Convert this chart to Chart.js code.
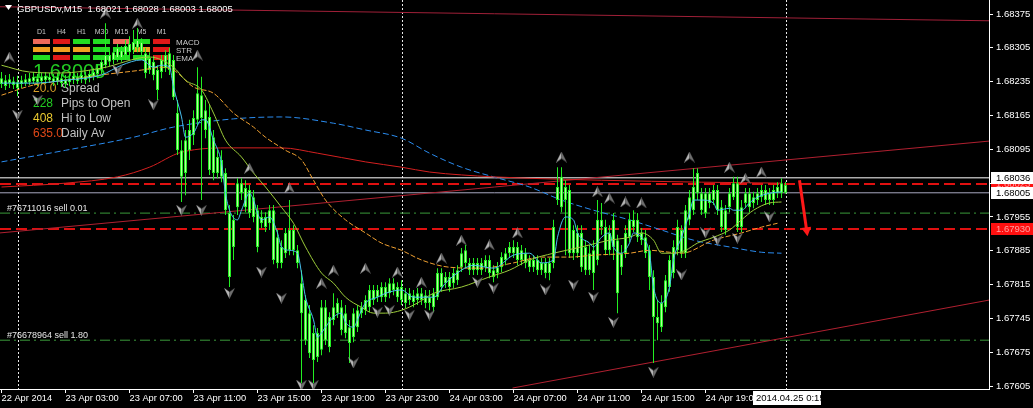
<!DOCTYPE html>
<html>
<head>
<meta charset="utf-8">
<script src="https://cdn.jsdelivr.net/npm/chart.js@4.4.0/dist/chart.umd.min.js"></script>
<style>
  html, body { margin: 0; padding: 0; background: #000; }
</style>
</head>
<body>
<canvas id="chart" width="1033" height="408"></canvas>
<script>
// GBPUSDv M15 - bar 0 is 22 Apr 23:00, last bar 25 Apr 00:00
// [open, high, low, close]
const ohlc = [
  [1.68230,1.68255,1.68222,1.68242],[1.68238,1.68249,1.68218,1.68226],[1.68232,1.68251,1.68222,1.68240],[1.68236,1.68245,1.68220,1.68228],
  [1.68234,1.68247,1.68205,1.68222],[1.68230,1.68247,1.68222,1.68238],[1.68232,1.68251,1.68226,1.68240],[1.68234,1.68253,1.68228,1.68242],
  [1.68236,1.68255,1.68230,1.68245],[1.68242,1.68251,1.68226,1.68234],[1.68236,1.68253,1.68230,1.68245],[1.68238,1.68255,1.68230,1.68247],
  [1.68245,1.68253,1.68232,1.68238],[1.68242,1.68251,1.68226,1.68234],[1.68236,1.68253,1.68228,1.68245],[1.68242,1.68251,1.68224,1.68232],
  [1.68240,1.68249,1.68222,1.68230],[1.68234,1.68251,1.68226,1.68242],[1.68238,1.68255,1.68230,1.68247],[1.68245,1.68253,1.68230,1.68236],
  [1.68240,1.68257,1.68232,1.68249],[1.68247,1.68255,1.68230,1.68238],[1.68242,1.68259,1.68234,1.68251],[1.68245,1.68263,1.68238,1.68255],
  [1.68251,1.68271,1.68242,1.68263],[1.68259,1.68284,1.68251,1.68276],[1.68269,1.68356,1.68263,1.68290],[1.68290,1.68300,1.68267,1.68276],
  [1.68280,1.68305,1.68271,1.68296],[1.68284,1.68313,1.68276,1.68305],[1.68300,1.68309,1.68276,1.68284],[1.68290,1.68321,1.68280,1.68309],
  [1.68296,1.68329,1.68288,1.68313],[1.68300,1.68342,1.68292,1.68317],[1.68305,1.68346,1.68296,1.68321],[1.68317,1.68325,1.68288,1.68296],
  [1.68294,1.68305,1.68242,1.68253],[1.68259,1.68296,1.68251,1.68284],[1.68276,1.68288,1.68238,1.68249],[1.68259,1.68269,1.68197,1.68218],
  [1.68255,1.68290,1.68242,1.68280],[1.68263,1.68300,1.68255,1.68290],[1.68294,1.68305,1.68249,1.68259],[1.68280,1.68290,1.68197,1.68203],
  [1.68170,1.68197,1.68083,1.68093],[1.68093,1.68114,1.67986,1.68038],[1.68046,1.68135,1.68000,1.68114],[1.68093,1.68156,1.68073,1.68135],
  [1.68124,1.68176,1.68104,1.68160],[1.68156,1.68265,1.68145,1.68211],[1.68207,1.68245,1.67990,1.68160],[1.68176,1.68197,1.68118,1.68135],
  [1.68162,1.68187,1.68042,1.68052],[1.68046,1.68135,1.68031,1.68120],[1.68079,1.68093,1.68035,1.68046],[1.68038,1.68093,1.68027,1.68073],
  [1.68046,1.68056,1.67959,1.67969],[1.67963,1.67980,1.67810,1.67831],[1.67893,1.67959,1.67866,1.67949],[1.67975,1.68035,1.67959,1.68025],
  [1.68025,1.68035,1.67990,1.68004],[1.68015,1.68031,1.67965,1.67975],[1.67963,1.68021,1.67953,1.68011],[1.67996,1.68011,1.67944,1.67955],
  [1.67969,1.67980,1.67882,1.67893],[1.67942,1.67969,1.67932,1.67955],[1.67955,1.67965,1.67924,1.67934],[1.67942,1.67980,1.67928,1.67969],
  [1.67969,1.67980,1.67857,1.67866],[1.67860,1.67928,1.67849,1.67913],[1.67893,1.67907,1.67849,1.67860],[1.67880,1.67932,1.67870,1.67922],
  [1.67886,1.67990,1.67876,1.67928],[1.67928,1.67938,1.67876,1.67886],[1.67886,1.67897,1.67849,1.67860],[1.67818,1.67845,1.67611,1.67756],
  [1.67783,1.67793,1.67690,1.67700],[1.67756,1.67773,1.67663,1.67673],[1.67715,1.67731,1.67611,1.67659],[1.67665,1.67725,1.67655,1.67715],
  [1.67680,1.67783,1.67669,1.67768],[1.67768,1.67783,1.67690,1.67700],[1.67748,1.67758,1.67675,1.67686],[1.67742,1.67797,1.67731,1.67768],
  [1.67756,1.67787,1.67746,1.67777],[1.67768,1.67783,1.67710,1.67721],[1.67756,1.67773,1.67704,1.67715],[1.67727,1.67742,1.67653,1.67694],
  [1.67706,1.67766,1.67696,1.67756],[1.67727,1.67773,1.67717,1.67762],[1.67756,1.67779,1.67746,1.67768],[1.67762,1.67793,1.67752,1.67783],
  [1.67768,1.67814,1.67758,1.67804],[1.67804,1.67814,1.67773,1.67783],[1.67789,1.67814,1.67779,1.67804],[1.67789,1.67820,1.67779,1.67810],
  [1.67810,1.67820,1.67779,1.67789],[1.67797,1.67828,1.67787,1.67818],[1.67818,1.67828,1.67793,1.67804],[1.67810,1.67820,1.67779,1.67789],
  [1.67783,1.67824,1.67773,1.67810],[1.67797,1.67808,1.67766,1.67777],[1.67783,1.67808,1.67773,1.67797],[1.67793,1.67804,1.67768,1.67779],
  [1.67783,1.67808,1.67773,1.67797],[1.67797,1.67808,1.67773,1.67783],[1.67793,1.67804,1.67766,1.67777],[1.67789,1.67804,1.67762,1.67777],
  [1.67768,1.67808,1.67758,1.67797],[1.67789,1.67849,1.67783,1.67839],[1.67839,1.67849,1.67800,1.67810],[1.67818,1.67841,1.67808,1.67831],
  [1.67831,1.67841,1.67800,1.67810],[1.67818,1.67849,1.67808,1.67839],[1.67824,1.67855,1.67814,1.67845],[1.67851,1.67891,1.67841,1.67880],
  [1.67860,1.67897,1.67849,1.67886],[1.67860,1.67870,1.67835,1.67845],[1.67845,1.67870,1.67835,1.67860],[1.67860,1.67870,1.67835,1.67845],
  [1.67845,1.67870,1.67835,1.67860],[1.67851,1.67876,1.67841,1.67866],[1.67866,1.67876,1.67828,1.67839],[1.67845,1.67855,1.67820,1.67831],
  [1.67839,1.67862,1.67828,1.67851],[1.67851,1.67882,1.67841,1.67872],[1.67866,1.67891,1.67855,1.67880],[1.67880,1.67903,1.67870,1.67893],
  [1.67893,1.67907,1.67870,1.67880],[1.67893,1.67903,1.67855,1.67866],[1.67866,1.67897,1.67855,1.67886],[1.67880,1.67891,1.67849,1.67860],
  [1.67866,1.67876,1.67841,1.67851],[1.67851,1.67876,1.67841,1.67866],[1.67866,1.67876,1.67835,1.67845],[1.67845,1.67870,1.67835,1.67860],
  [1.67860,1.67870,1.67828,1.67839],[1.67839,1.67870,1.67824,1.67860],[1.67860,1.67949,1.67849,1.67934],[1.67990,1.68058,1.67980,1.68017],
  [1.68038,1.68058,1.67965,1.67975],[1.67990,1.68031,1.67876,1.68017],[1.68011,1.68021,1.67870,1.67880],[1.67880,1.67938,1.67866,1.67928],
  [1.67922,1.67938,1.67870,1.67880],[1.67922,1.67938,1.67841,1.67851],[1.67845,1.67907,1.67835,1.67893],[1.67880,1.67897,1.67835,1.67845],
  [1.67839,1.67907,1.67804,1.67886],[1.67866,1.67990,1.67855,1.67949],[1.67949,1.67984,1.67918,1.67934],[1.67934,1.67949,1.67876,1.67886],
  [1.67886,1.67938,1.67876,1.67922],[1.67893,1.67963,1.67866,1.67949],[1.67907,1.67918,1.67756,1.67797],[1.67851,1.67897,1.67835,1.67880],
  [1.67880,1.67938,1.67870,1.67922],[1.67913,1.67963,1.67903,1.67949],[1.67949,1.67969,1.67924,1.67934],[1.67949,1.67963,1.67903,1.67913],
  [1.67922,1.67932,1.67897,1.67907],[1.67913,1.67928,1.67870,1.67880],[1.67886,1.67897,1.67804,1.67831],[1.67831,1.67845,1.67653,1.67748],
  [1.67735,1.67783,1.67700,1.67748],[1.67727,1.67793,1.67717,1.67777],[1.67768,1.67835,1.67758,1.67824],[1.67810,1.67876,1.67800,1.67866],
  [1.67839,1.67907,1.67828,1.67893],[1.67886,1.67949,1.67876,1.67934],[1.67928,1.67938,1.67870,1.67880],[1.67880,1.67980,1.67870,1.67969],
  [1.67949,1.68011,1.67938,1.67996],[1.67969,1.68056,1.67959,1.68017],[1.68004,1.68056,1.67990,1.68046],[1.68004,1.68015,1.67959,1.67969],
  [1.67963,1.68015,1.67953,1.68004],[1.68004,1.68015,1.67973,1.67984],[1.67990,1.68021,1.67980,1.68011],[1.68011,1.68021,1.67959,1.67969],
  [1.67975,1.67990,1.67924,1.67934],[1.67928,1.67980,1.67918,1.67969],[1.67975,1.68015,1.67965,1.68004],[1.67996,1.68038,1.67990,1.68025],
  [1.68025,1.68038,1.67924,1.67934],[1.67934,1.67990,1.67924,1.67975],[1.67984,1.68015,1.67973,1.68004],[1.68004,1.68015,1.67965,1.67975],
  [1.67984,1.68007,1.67973,1.67996],[1.67990,1.68015,1.67980,1.68004],[1.67996,1.68021,1.67986,1.68011],[1.68011,1.68021,1.67980,1.67990],
  [1.67990,1.68015,1.67980,1.68004],[1.67990,1.68021,1.67980,1.68011],[1.68004,1.68027,1.67994,1.68017],[1.68025,1.68035,1.67994,1.68004],
  [1.68021,1.68028,1.68003,1.68005]
];

// moving averages [bar, value]
const maFast = [[0,1.68232],[8,1.68232],[16,1.68238],[25,1.68249],[30,1.68269],[35,1.68280],[38,1.68265],[40,1.68269],[42,1.68265],
  [43,1.68224],[45,1.68162],[46,1.68120],[48,1.68129],[50,1.68156],[51,1.68156],[53,1.68114],[55,1.68067],[56,1.68004],[57,1.67969],
  [59,1.67949],[60,1.67969],[62,1.68004],[63,1.67990],[64,1.67963],[65,1.67949],[67,1.67955],[69,1.67922],[70,1.67893],[72,1.67886],
  [74,1.67880],[75,1.67839],[76,1.67789],[78,1.67742],[79,1.67706],[80,1.67715],[81,1.67727],[83,1.67748],[85,1.67756],[86,1.67737],
  [88,1.67727],[89,1.67742],[90,1.67762],[91,1.67777],[94,1.67789],[96,1.67797],[100,1.67804],[103,1.67789],[108,1.67789],[111,1.67818],
  [115,1.67845],[118,1.67855],[123,1.67849],[128,1.67876],[132,1.67880],[135,1.67860],[138,1.67866],[139,1.67913],[141,1.67955],
  [143,1.67949],[144,1.67922],[147,1.67901],[148,1.67893],[150,1.67913],[152,1.67922],[153,1.67893],[155,1.67880],[157,1.67901],
  [158,1.67922],[160,1.67913],[162,1.67880],[163,1.67810],[165,1.67777],[167,1.67810],[168,1.67866],[170,1.67913],[172,1.67963],
  [173,1.67990],[175,1.67990],[178,1.67984],[179,1.67969],[182,1.67973],[183,1.67969],[185,1.67969],[187,1.67984],[189,1.67996],
  [192,1.68004],[195,1.68007]];
const maMid = [[0,1.68269],[7,1.68255],[15,1.68253],[25,1.68263],[37,1.68286],[43,1.68265],[46,1.68238],[50,1.68218],[53,1.68170],
  [56,1.68114],[60,1.68079],[63,1.68046],[66,1.68017],[70,1.67975],[73,1.67942],[76,1.67893],[80,1.67839],[83,1.67818],[86,1.67789],
  [90,1.67768],[93,1.67756],[96,1.67756],[100,1.67762],[104,1.67777],[108,1.67797],[115,1.67810],[122,1.67831],[127,1.67845],
  [132,1.67866],[138,1.67880],[145,1.67893],[152,1.67907],[157,1.67913],[160,1.67922],[163,1.67907],[165,1.67880],[168,1.67880],
  [171,1.67886],[174,1.67901],[178,1.67913],[182,1.67928],[185,1.67949],[188,1.67969],[192,1.67984],[195,1.67986]];
const maOrange = [[0,1.68207],[8,1.68228],[16,1.68238],[25,1.68249],[35,1.68259],[40,1.68265],[43,1.68259],[48,1.68224],[53,1.68211],
  [58,1.68170],[63,1.68141],[66,1.68120],[71,1.68093],[75,1.68073],[78,1.68031],[81,1.67990],[86,1.67949],[91,1.67922],[95,1.67901],
  [100,1.67886],[105,1.67866],[112,1.67851],[120,1.67849],[128,1.67860],[135,1.67872],[142,1.67872],[148,1.67876],[157,1.67880],
  [162,1.67886],[167,1.67882],[170,1.67880],[178,1.67907],[185,1.67922],[190,1.67934],[194,1.67942]];
const maBlue = [[0,1.68069],[16,1.68093],[33,1.68120],[43,1.68141],[58,1.68158],[70,1.68162],[83,1.68149],[91,1.68135],[100,1.68118],
  [107,1.68087],[115,1.68058],[123,1.68038],[132,1.68017],[140,1.67990],[148,1.67969],[157,1.67949],[165,1.67928],[173,1.67907],
  [182,1.67893],[190,1.67882],[195,1.67880]];
const maRed = [[0,1.68017],[16,1.68025],[29,1.68038],[37,1.68058],[45,1.68089],[58,1.68098],[70,1.68098],[79,1.68087],[91,1.68069],
  [100,1.68058],[107,1.68048],[115,1.68042],[123,1.68038],[132,1.68035],[150,1.68031],[175,1.68027],[195,1.68025]];

// fractal arrows [bar, price]
const fractalUp = [[2,1.68286],[26,1.68377],[34,1.68356],[49,1.68290],[62,1.68056],[72,1.68015],[80,1.67818],[83,1.67845],[91,1.67849],
  [99,1.67841],[105,1.67820],[110,1.67870],[115,1.67907],[122,1.67897],[129,1.67922],[140,1.68079],[149,1.68007],[152,1.67994],
  [156,1.67986],[160,1.67984],[172,1.68079],[182,1.68058],[186,1.68035],[190,1.68048]];
const fractalDown = [[4,1.68166],[9,1.68197],[29,1.68259],[38,1.68187],[45,1.67969],[50,1.67969],[57,1.67797],[65,1.67841],[70,1.67787],
  [75,1.67607],[78,1.67607],[88,1.67653],[94,1.67758],[97,1.67762],[102,1.67752],[107,1.67752],[119,1.67820],[123,1.67808],
  [136,1.67804],[143,1.67814],[148,1.67789],[153,1.67737],[163,1.67634],[170,1.67835],[176,1.67922],[179,1.67907],[184,1.67911],[192,1.67955]];

// horizontal levels and trend lines
const lastClose = 1.68005;
const whiteLevel = 1.68036;
const redLevels = [1.68023, 1.67930];
const orderLevels = [1.67963, 1.67700];
const orderLabels = ['#76711016 sell 0.01', '#76678964 sell 1.80'];
const trendTop = [[-0.375, 1.68390], [246.875, 1.68361]];
const trendUpper = [[-0.375, 1.67922], [246.875, 1.68112]];
const trendLower = [[127.75, 1.67601], [246.875, 1.67783]];
const sellArrow = [[199.5, 1.68031], [201.5, 1.67915]];
const daySeps = [4, 100, 196];

// axis ticks
const yTicks = [1.67605, 1.67675, 1.67745, 1.67815, 1.67885, 1.67955, 1.68025, 1.68095, 1.68165, 1.68235, 1.68305, 1.68375];
const xTickIdx = [0, 16, 32, 48, 64, 80, 96, 112, 128, 144, 160, 176];
const xTickLabels = ['22 Apr 2014', '23 Apr 03:00', '23 Apr 07:00', '23 Apr 11:00', '23 Apr 15:00', '23 Apr 19:00',
  '23 Apr 23:00', '24 Apr 03:00', '24 Apr 07:00', '24 Apr 11:00', '24 Apr 15:00', '24 Apr 19:00'];

// signal panel
const tfNames = ['D1', 'H4', 'H1', 'M30', 'M15', 'M5', 'M1'];
const panelRows = ['MACD', 'STR', 'EMA'];
const panelColors = [
  ['#f06a5a', '#e01818', '#22dd22', '#22dd22', '#f06a5a', '#22dd22', '#e01818'],
  ['#f0a020', '#f0a020', '#f0a020', '#22dd22', '#22dd22', '#f0a020', '#e01818'],
  ['#22dd22', '#e01818', '#22dd22', '#22dd22', '#22dd22', '#22dd22', '#e01818']
];
const infoValues = ['20.0', '228', '408', '635.0'];
const infoNames = ['Spread', 'Pips to Open', 'Hi to Low', 'Daily Av'];
const infoColors = ['#d8a028', '#22cc22', '#e8c830', '#e04818'];

const FONT = "'Liberation Sans', Arial, sans-serif";
const xMin = -0.375, xMax = 246.875;

function arrowImg(up) {
  const cv = document.createElement('canvas');
  cv.width = 11; cv.height = 11;
  const g = cv.getContext('2d');
  if (!up) { g.translate(0, 11); g.scale(1, -1); }
  g.fillStyle = '#b4b4b4';
  g.beginPath(); g.moveTo(5.5, 0); g.lineTo(5.5, 7); g.lineTo(0, 11); g.closePath(); g.fill();
  g.fillStyle = '#6e6e6e';
  g.beginPath(); g.moveTo(5.5, 0); g.lineTo(11, 11); g.lineTo(5.5, 7); g.closePath(); g.fill();
  return cv;
}

const lineSet = (pts, color, extra) => Object.assign({
  type: 'line',
  data: pts.map(p => ({ x: p[0], y: p[1] })),
  borderColor: color,
  borderWidth: 1,
  pointRadius: 0,
  fill: false,
  tension: 0
}, extra);
const levelSet = (v, color, extra) => lineSet([[xMin, v], [xMax, v]], color, extra);
const smooth = { cubicInterpolationMode: 'monotone' };

const datasets = [
  levelSet(whiteLevel, '#ffffff', { order: 30 }),
  levelSet(lastClose, '#a8a8c0', { order: 30 }),
  ...redLevels.map(v => levelSet(v, '#e01010', { borderWidth: 2, borderDash: [11, 5], order: 30 })),
  ...orderLevels.map(v => levelSet(v, '#3a9a3a', { borderDash: [10, 4, 2, 4], order: 30 })),
  lineSet(trendTop, '#a02038', { order: 29 }),
  lineSet(trendUpper, '#b02030', { order: 29 }),
  lineSet(trendLower, '#b02030', { order: 29 }),
  lineSet(maRed, '#d42020', Object.assign({ order: 28 }, smooth)),
  lineSet(maBlue, '#2a8cf0', Object.assign({ borderDash: [6, 3], order: 28 }, smooth)),
  {
    type: 'bar', order: 20, grouped: false, barThickness: 1, inflateAmount: 0,
    data: ohlc.map((d, i) => ({ x: i, y: [d[2], d[1]] })),
    backgroundColor: '#22ee22', borderWidth: 0
  },
  {
    type: 'bar', order: 19, grouped: false, barThickness: 3, inflateAmount: 0, minBarLength: 1,
    data: ohlc.map((d, i) => ({ x: i, y: [Math.min(d[0], d[3]), Math.max(d[0], d[3])] })),
    backgroundColor: '#b8ff9c', borderColor: '#22ee22', borderWidth: 1, borderSkipped: false
  },
  lineSet(maOrange, '#f0a030', Object.assign({ borderDash: [5, 2], order: 10 }, smooth)),
  lineSet(maMid, '#9ccc3a', Object.assign({ order: 9 }, smooth)),
  lineSet(maFast, '#48c0f0', Object.assign({ order: 8 }, smooth)),
  lineSet(fractalUp, '#888', { showLine: false, pointStyle: arrowImg(true), pointRadius: 5, order: 2 }),
  lineSet(fractalDown, '#888', { showLine: false, pointStyle: arrowImg(false), pointRadius: 5, order: 2 })
];

const mt4 = {
  id: 'mt4',
  beforeDraw(chart) {
    const c = chart.ctx;
    c.save();
    c.fillStyle = '#000';
    c.fillRect(0, 0, chart.width, chart.height);
    c.restore();
  },
  beforeDatasetsDraw(chart) {
    const c = chart.ctx, xs = chart.scales.x, ys = chart.scales.y, a = chart.chartArea;
    c.save();
    // day separators
    c.strokeStyle = '#e8e8e8';
    c.lineWidth = 1;
    c.setLineDash([2, 2]);
    daySeps.forEach(i => {
      const px = Math.round(xs.getPixelForValue(i)) + 0.5;
      c.beginPath(); c.moveTo(px, a.top); c.lineTo(px, a.bottom); c.stroke();
    });
    c.setLineDash([]);

    // order labels
    c.font = '9px ' + FONT;
    c.fillStyle = '#e6e6e6';
    orderLevels.forEach((v, k) => c.fillText(orderLabels[k], 7, ys.getPixelForValue(v) - 2));

    // signal panel
    c.textAlign = 'center';
    c.font = '7px ' + FONT;
    c.fillStyle = '#c8c8c8';
    tfNames.forEach((t, k) => c.fillText(t, 41.5 + k * 20, 34));
    panelColors.forEach((row, r) => {
      row.forEach((col, k) => {
        c.fillStyle = col;
        c.fillRect(33 + k * 20, 39 + r * 8, 17, 5);
      });
    });
    c.textAlign = 'left';
    c.font = '8px ' + FONT;
    c.fillStyle = '#c8c8c8';
    panelRows.forEach((t, r) => c.fillText(t, 176, 45 + r * 8));

    c.font = '20px ' + FONT;
    c.fillStyle = '#22cc22';
    c.fillText(lastClose.toFixed(5), 33, 78);

    c.font = '12px ' + FONT;
    infoValues.forEach((v, k) => {
      c.fillStyle = infoColors[k];
      c.fillText(v, 33, 92 + k * 15);
      c.fillStyle = '#c0c0c0';
      c.fillText(infoNames[k], 61, 92 + k * 15);
    });
    c.restore();
  },
  afterDatasetsDraw(chart) {
    const c = chart.ctx, xs = chart.scales.x, ys = chart.scales.y;
    const x0 = xs.getPixelForValue(sellArrow[0][0]), y0 = ys.getPixelForValue(sellArrow[0][1]);
    const x1 = xs.getPixelForValue(sellArrow[1][0]), y1 = ys.getPixelForValue(sellArrow[1][1]);
    const ang = Math.atan2(y1 - y0, x1 - x0);
    c.save();
    c.strokeStyle = '#ff1818';
    c.fillStyle = '#ff1818';
    c.lineWidth = 3;
    c.beginPath(); c.moveTo(x0, y0); c.lineTo(x1 - 6 * Math.cos(ang), y1 - 6 * Math.sin(ang)); c.stroke();
    c.beginPath();
    c.moveTo(x1, y1);
    c.lineTo(x1 - 9 * Math.cos(ang) + 5 * Math.sin(ang), y1 - 9 * Math.sin(ang) - 5 * Math.cos(ang));
    c.lineTo(x1 - 9 * Math.cos(ang) - 5 * Math.sin(ang), y1 - 9 * Math.sin(ang) + 5 * Math.cos(ang));
    c.closePath(); c.fill();
    c.restore();
  },
  afterDraw(chart) {
    const c = chart.ctx, ys = chart.scales.y;
    c.save();
    // title
    c.fillStyle = '#ffffff';
    c.beginPath(); c.moveTo(5, 5); c.lineTo(12, 5); c.lineTo(8.5, 10); c.closePath(); c.fill();
    c.font = '9.5px ' + FONT;
    c.fillText('GBPUSDv,M15  1.68021 1.68028 1.68003 1.68005', 17, 12);

    // price boxes on the axis
    const box = (v, bg, fg) => {
      const py = Math.round(ys.getPixelForValue(v));
      c.fillStyle = bg;
      c.fillRect(991, py - 6, 42, 12);
      c.fillStyle = fg;
      c.textBaseline = 'middle';
      c.fillText(v.toFixed(5), 996, py + 0.5);
    };
    c.font = '9.5px ' + FONT;
    redLevels.forEach(v => box(v, '#ff1010', '#ffa0a0'));
    box(whiteLevel, '#ffffff', '#000000');
    box(lastClose, '#ffffff', '#000000');

    // time box
    c.fillStyle = '#ffffff';
    c.fillRect(753, 391, 68, 14);
    c.fillStyle = '#000000';
    c.textBaseline = 'middle';
    c.fillText('2014.04.25 0:15', 756, 398.5);
    c.restore();
  }
};

new Chart(document.getElementById('chart'), {
  type: 'bar',
  data: { datasets },
  options: {
    responsive: false,
    animation: false,
    devicePixelRatio: 1,
    layout: { padding: 0, autoPadding: false },
    plugins: { legend: { display: false }, tooltip: { enabled: false } },
    scales: {
      x: {
        type: 'linear', min: xMin, max: xMax, offset: false,
        grid: { drawOnChartArea: false, offset: false, tickLength: 4, color: '#ffffff' },
        border: { color: '#ffffff' },
        ticks: {
          color: '#ffffff', font: { family: FONT, size: 9.3 }, padding: 0, align: 'start',
          maxRotation: 0, autoSkip: false,
          callback: v => xTickLabels[xTickIdx.indexOf(v)]
        },
        afterBuildTicks: s => { s.ticks = xTickIdx.map(v => ({ value: v })); },
        afterFit: s => { s.height = 19; s.paddingLeft = 0; s.paddingRight = 0; }
      },
      y: {
        position: 'right', min: 1.67599, max: 1.68404,
        grid: { drawOnChartArea: false, tickLength: 4, color: '#ffffff' },
        border: { color: '#ffffff' },
        ticks: { color: '#ffffff', font: { family: FONT, size: 9.5 }, padding: 3, callback: v => v.toFixed(5) },
        afterBuildTicks: s => { s.ticks = yTicks.map(v => ({ value: v })); },
        afterFit: s => { s.width = 44; s.paddingTop = 0; s.paddingBottom = 0; }
      }
    }
  },
  plugins: [mt4]
});
</script>
</body>
</html>
